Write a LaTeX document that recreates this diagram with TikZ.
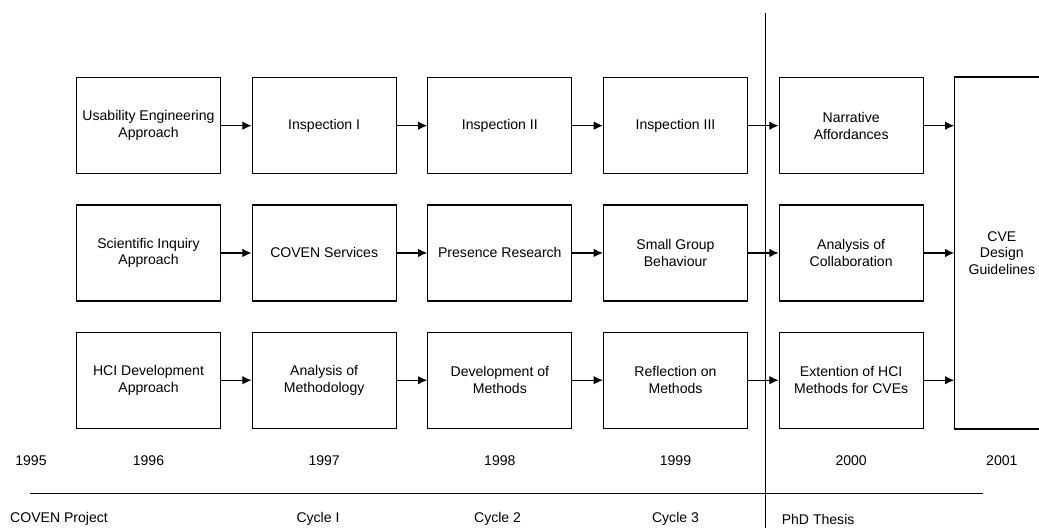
\documentclass[tikz,border=0pt]{standalone}
\usepackage{fontspec}
\setmainfont{Liberation Sans}
\usetikzlibrary{arrows.meta, positioning}

\begin{document}
\begin{tikzpicture}[
        node distance=0.75cm and 0.76cm,
        stage/.style={rectangle, minimum width=3.6cm, minimum height=2.4cm, text centered, draw=black, line width=0.9pt, align=center, font=\fontsize{10}{11.9}\selectfont},
        goal/.style={stage, minimum width=2.35cm, minimum height=8.8cm},
        year/.style={font=\fontsize{10}{12}\selectfont},
        phase/.style={font=\fontsize{10}{12}\selectfont},
        arrow/.style={line width=0.8pt,->,>={Latex[length=6.5pt,width=6pt]}}
    ]

        \useasboundingbox (0,0) rectangle (25.975,-13.2);

        % Row 1: usability engineering
        \node (usab) [stage] at (3.7125,-3.1425) {Usability Engineering\\Approach};
        \node (insp1) [stage, right=of usab] {Inspection I};
        \node (insp2) [stage, right=of insp1] {Inspection II};
        \node (insp3) [stage, right=of insp2] {Inspection III};
        \node (narr) [stage, right=of insp3] {Narrative\\Affordances};

        % Row 2: scientific inquiry
        \node (sci) [stage, below=of usab] {Scientific Inquiry\\Approach};
        \node (coven) [stage, right=of sci] {COVEN Services};
        \node (pres) [stage, right=of coven] {Presence Research};
        \node (group) [stage, right=of pres] {Small Group\\Behaviour};
        \node (collab) [stage, right=of group] {Analysis of\\Collaboration};

        % Row 3: HCI development
        \node (hci) [stage, below=of sci] {HCI Development\\Approach};
        \node (method) [stage, right=of hci] {Analysis of\\Methodology};
        \node (devel) [stage, right=of method] {Development of\\Methods};
        \node (reflect) [stage, right=of devel] {Reflection on\\Methods};
        \node (extend) [stage, right=of reflect] {Extention of HCI\\Methods for CVEs};

        % Final outcome
        \node (cve) [goal, right=of collab] {CVE\\Design\\Guidelines};

        % Years
        \node (y1995) [year] at (0.775,-11.51) {1995};
        \node (y1996) [year] at (hci |- y1995) {1996};
        \node (y1997) [year] at (method |- y1995) {1997};
        \node (y1998) [year] at (devel |- y1995) {1998};
        \node (y1999) [year] at (reflect |- y1995) {1999};
        \node (y2000) [year] at (extend |- y1995) {2000};
        \node (y2001) [year] at (cve |- y1995) {2001};

        % Phases
        \node (pcoven) [phase] at (1.475,-12.98) {COVEN Project};
        \node (pcyc1) [phase] at (7.95,-12.98) {Cycle I};
        \node (pcyc2) [phase] at (12.44,-12.98) {Cycle 2};
        \node (pcyc3) [phase] at (reflect |- pcoven) {Cycle 3};
        \node (pphd) [phase, anchor=west] at (19.42,-12.98) {PhD Thesis};

        % Time axis and thesis split
        \coordinate (axisl) at (0.75,-12.33);
        \coordinate (axisr) at (24.58,-12.33);
        \coordinate (splittop) at (19.13,-0.3175);
        \coordinate (splitbot) at (19.13,-13.4);
        \draw [line width=0.8pt] (axisl) -- (axisr);
        \draw [line width=0.8pt] (splittop) -- (splitbot);

        % Arrows along the rows
        \draw [arrow] (usab) -- (insp1);
        \draw [arrow] (insp1) -- (insp2);
        \draw [arrow] (insp2) -- (insp3);
        \draw [arrow] (insp3) -- (narr);
        \draw [arrow] (sci) -- (coven);
        \draw [arrow] (coven) -- (pres);
        \draw [arrow] (pres) -- (group);
        \draw [arrow] (group) -- (collab);
        \draw [arrow] (hci) -- (method);
        \draw [arrow] (method) -- (devel);
        \draw [arrow] (devel) -- (reflect);
        \draw [arrow] (reflect) -- (extend);

        % Arrows into guidelines
        \draw [arrow] (narr.east) -- (narr.east -| cve.west);
        \draw [arrow] (collab.east) -- (cve.west);
        \draw [arrow] (extend.east) -- (extend.east -| cve.west);

\end{tikzpicture}
\end{document}
